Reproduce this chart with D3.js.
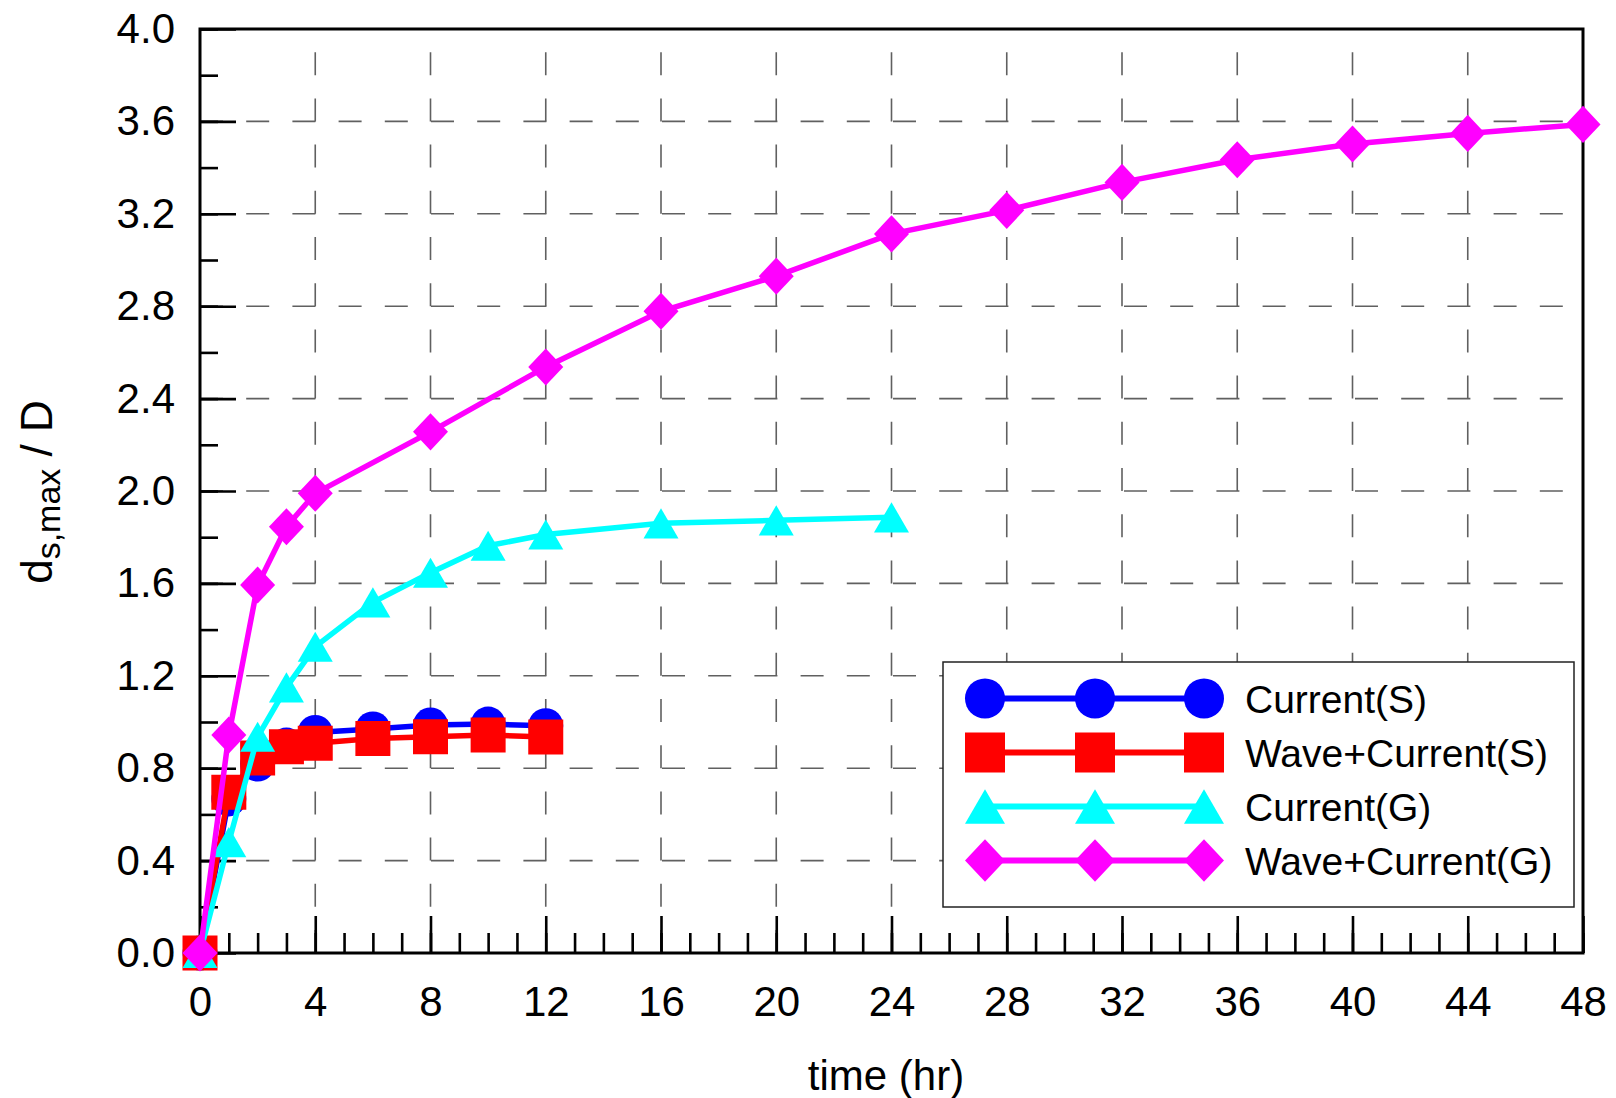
<!DOCTYPE html>
<html>
<head>
<meta charset="utf-8">
<script src="https://cdn.jsdelivr.net/npm/d3@7"></script>
<style>
  body { margin: 0; background: #fff; }
  text { font-family: "Liberation Sans", Arial, sans-serif; }
</style>
</head>
<body>
<script>
// data
var timeS = [0, 1, 2, 3, 4, 6, 8, 10, 12];
var currentS = [0, 0.667, 0.818, 0.90, 0.955, 0.97, 0.987, 0.991, 0.984];
var waveCurrentS = [0, 0.696, 0.844, 0.893, 0.908, 0.929, 0.936, 0.944, 0.935];

var timeCG = [0, 1, 2, 3, 4, 6, 8, 10, 12, 16, 20, 24];
var currentG = [0, 0.48, 0.936, 1.15, 1.326, 1.518, 1.646, 1.763, 1.812, 1.86, 1.873, 1.886];

var timeWCG = [0, 1, 2, 3, 4, 8, 12, 16, 20, 24, 28, 32, 36, 40, 44, 48];
var waveCurrentG = [0, 0.944, 1.593, 1.845, 1.99, 2.256, 2.537, 2.778, 2.93, 3.113, 3.215, 3.336, 3.434, 3.502, 3.548, 3.587];

var seriesNames = ["Current(S)", "Wave+Current(S)", "Current(G)", "Wave+Current(G)"];
var seriesColors = ["#0000ff", "#ff0000", "#00ffff", "#ff00ff"];
var seriesShapes = ["circle", "square", "triangle", "diamond"];

var xTicks = [0, 4, 8, 12, 16, 20, 24, 28, 32, 36, 40, 44, 48];
var yTicks = [0, 0.4, 0.8, 1.2, 1.6, 2.0, 2.4, 2.8, 3.2, 3.6, 4.0];

var series = [
  {name: seriesNames[0], t: timeS, v: currentS},
  {name: seriesNames[1], t: timeS, v: waveCurrentS},
  {name: seriesNames[2], t: timeCG, v: currentG},
  {name: seriesNames[3], t: timeWCG, v: waveCurrentG}
];
series.forEach(function(s, i) { s.color = seriesColors[i]; s.shape = seriesShapes[i]; });

var width = 1616, height = 1098;
var plotLeft = 200, plotRight = 1583, plotTop = 29, plotBottom = 953;

var svg = d3.select("body").append("svg").attr("width", width).attr("height", height);

var x = d3.scaleLinear().domain([0, 48]).range([plotLeft, plotRight]);
var y = d3.scaleLinear().domain([0, 4]).range([plotBottom, plotTop]);

// marker path centred on 0,0 (bounding box centred)
function marker(shape, w) {
  var h = w / 2;
  if (shape == "circle") {
    return d3.symbol().type(d3.symbolCircle).size(Math.PI * h * h)();
  }
  if (shape == "square") {
    return "M" + (-h) + "," + (-h) + "H" + h + "V" + h + "H" + (-h) + "Z";
  }
  if (shape == "triangle") {
    var th = w * 0.86 / 2;
    return "M0," + (-th) + "L" + h + "," + th + "L" + (-h) + "," + th + "Z";
  }
  var dh = w * 1.06 / 2;
  return "M0," + (-dh) + "L" + h + ",0L0," + dh + "L" + (-h) + ",0Z";
}

// grid
var grid = svg.append("g").attr("stroke", "#606060").attr("stroke-width", 1.6)
  .attr("stroke-dasharray", "23,23.2");
grid.selectAll(".hg").data(yTicks.slice(1, -1)).enter().append("line")
  .attr("x1", plotLeft).attr("x2", plotRight)
  .attr("y1", function(d) { return y(d); }).attr("y2", function(d) { return y(d); });
grid.selectAll(".vg").data(xTicks.slice(1, -1)).enter().append("line")
  .attr("y1", plotBottom).attr("y2", plotTop)
  .attr("x1", function(d) { return x(d); }).attr("x2", function(d) { return x(d); });

// axes, ticks point inward
var xMinor = svg.append("g").attr("transform", "translate(0," + plotBottom + ")")
  .call(d3.axisBottom(x).ticks(48).tickSize(-20).tickFormat(""));
var xMajor = svg.append("g").attr("transform", "translate(0," + plotBottom + ")")
  .call(d3.axisBottom(x).tickValues(xTicks).tickSize(-37).tickPadding(33).tickFormat(d3.format("d")));
var yMinor = svg.append("g").attr("transform", "translate(" + plotLeft + ",0)")
  .call(d3.axisLeft(y).ticks(20).tickSize(-18).tickFormat(""));
var yMajor = svg.append("g").attr("transform", "translate(" + plotLeft + ",0)")
  .call(d3.axisLeft(y).tickValues(yTicks).tickSize(-36).tickPadding(25).tickFormat(d3.format(".1f")));

[xMinor, xMajor, yMinor, yMajor].forEach(function(g) {
  g.select(".domain").remove();
  g.selectAll("line").attr("stroke", "#000").attr("stroke-width", 2.6);
  g.selectAll("text").attr("font-size", 42).attr("font-family", "Liberation Sans, Arial, sans-serif").attr("fill", "#000");
});

svg.append("rect").attr("x", plotLeft).attr("y", plotTop)
  .attr("width", plotRight - plotLeft).attr("height", plotBottom - plotTop)
  .attr("fill", "none").attr("stroke", "#000").attr("stroke-width", 3);

// series
var line = d3.line().x(function(d) { return x(d[0]); }).y(function(d) { return y(d[1]); });
series.forEach(function(s) {
  var pts = s.t.map(function(t, i) { return [t, s.v[i]]; });
  var g = svg.append("g");
  g.append("path").attr("d", line(pts)).attr("fill", "none")
    .attr("stroke", s.color).attr("stroke-width", 5.5);
  g.selectAll("path.m").data(pts).enter().append("path")
    .attr("class", "m")
    .attr("d", marker(s.shape, 35))
    .attr("transform", function(d) { return "translate(" + x(d[0]) + "," + y(d[1]) + ")"; })
    .attr("fill", s.color);
});

// legend
var lg = svg.append("g");
lg.append("rect").attr("x", 943).attr("y", 662).attr("width", 631).attr("height", 245)
  .attr("fill", "#fff").attr("stroke", "#222").attr("stroke-width", 1.5);
var legendX = [985, 1095, 1204];
series.forEach(function(s, i) {
  var ry = 698.5 + i * 54;
  lg.append("line").attr("x1", legendX[0]).attr("x2", legendX[2])
    .attr("y1", ry).attr("y2", ry).attr("stroke", s.color).attr("stroke-width", 6);
  legendX.forEach(function(mx) {
    lg.append("path").attr("d", marker(s.shape, 40))
      .attr("transform", "translate(" + mx + "," + ry + ")").attr("fill", s.color);
  });
  lg.append("text").attr("x", 1245).attr("y", ry + 14.5).attr("font-size", 39)
    .attr("fill", "#000").text(s.name);
});

// axis titles
svg.append("text").attr("x", 886).attr("y", 1090).attr("text-anchor", "middle")
  .attr("font-size", 42).text("time (hr)");

var yl = svg.append("text").attr("transform", "translate(52,492) rotate(-90)")
  .attr("text-anchor", "middle").attr("font-size", 44);
yl.append("tspan").text("d");
yl.append("tspan").attr("font-size", 34).attr("dy", 8).text("s,max");
yl.append("tspan").attr("dy", -8).text(" / D");
</script>
</body>
</html>
